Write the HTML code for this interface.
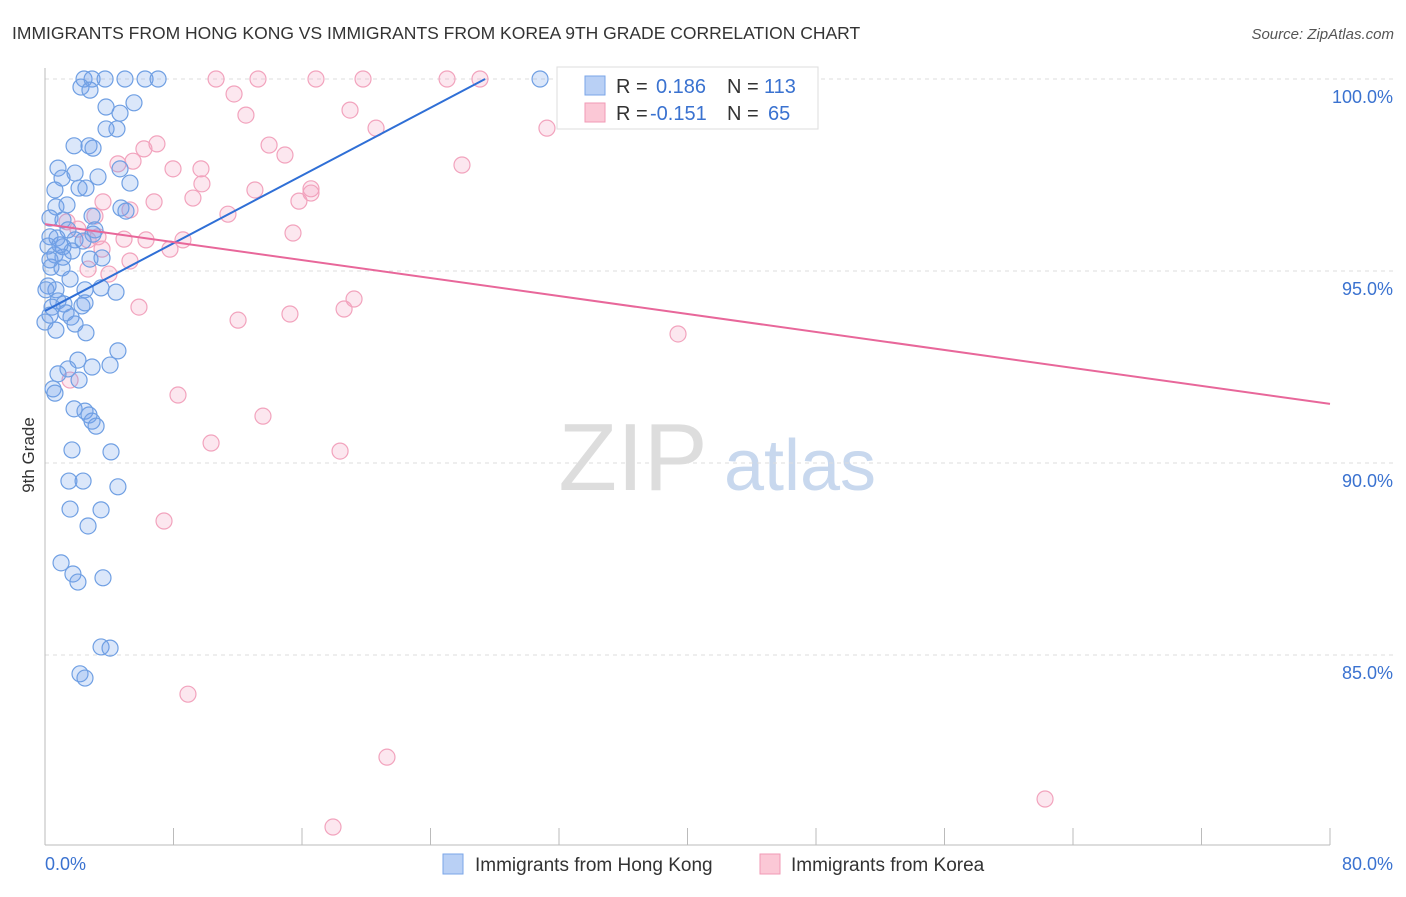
<!DOCTYPE html>
<html><head><meta charset="utf-8"><style>
body{margin:0;background:#fff;font-family:"Liberation Sans",sans-serif}
svg text{font-family:"Liberation Sans",sans-serif}
</style></head><body>
<svg id="c" width="1406" height="892" xmlns="http://www.w3.org/2000/svg">
<text x="12" y="39" font-size="17.5" fill="#333">IMMIGRANTS FROM HONG KONG VS IMMIGRANTS FROM KOREA 9TH GRADE CORRELATION CHART</text>
<text x="1394" y="39" font-size="15" fill="#555" text-anchor="end" font-style="italic">Source: ZipAtlas.com</text>
<text x="633" y="490" font-size="96" fill="#ddd" text-anchor="middle" font-family="Liberation Serif">ZIP</text>
<text x="800" y="490" font-size="72" fill="#c8d8ee" text-anchor="middle">atlas</text>
<text transform="translate(34,455) rotate(-90)" font-size="17" fill="#333" text-anchor="middle">9th Grade</text>
<g id="grid"></g><g id="pts"></g><g id="lines"></g>
<g>
<rect x="557" y="67" width="261" height="62" fill="#fff" stroke="#ddd"/>
<rect x="585" y="76" width="20" height="19" fill="#b9d0f5" stroke="#7aa6e8"/>
<rect x="585" y="103" width="20" height="19" fill="#fbc8d6" stroke="#f09ab5"/>
<text x="616" y="93" font-size="20" fill="#333">R = </text><text x="656" y="93" font-size="20" fill="#3a72d0">0.186</text>
<text x="727" y="93" font-size="20" fill="#333">N = </text><text x="764" y="93" font-size="20" fill="#3a72d0">113</text>
<text x="616" y="120" font-size="20" fill="#333">R = </text><text x="650" y="120" font-size="20" fill="#3a72d0">-0.151</text>
<text x="727" y="120" font-size="20" fill="#333">N = </text><text x="768" y="120" font-size="20" fill="#3a72d0">65</text>
</g>
<g>
<rect x="443" y="854" width="20" height="20" fill="#b9d0f5" stroke="#7aa6e8"/>
<text x="475" y="871" font-size="19" fill="#333">Immigrants from Hong Kong</text>
<rect x="760" y="854" width="20" height="20" fill="#fbc8d6" stroke="#f09ab5"/>
<text x="791" y="871" font-size="19" fill="#333">Immigrants from Korea</text>
</g>
<text x="45" y="870" font-size="18" fill="#3a72d0">0.0%</text>
<text x="1393" y="870" font-size="18" fill="#3a72d0" text-anchor="end">80.0%</text>
</svg>
<script>
const yTicks=[100,95,90,85];
const yTickLabels=["100.0%","95.0%","90.0%","85.0%"];
const xTicks=[0,8,16,24,32,40,48,56,64,72,80];
const hkX=[2.43,2.93,3.74,4.98,6.23,7.04,30.82,2.24,2.80,5.54,3.80,4.67,4.48,3.80,1.81,2.74,2.99,0.81,1.06,1.87,3.30,2.12,2.55,5.29,0.62,4.67,0.68,1.37,4.73,5.04,2.93,0.31,1.12,3.11,2.99,0.31,0.75,1.87,2.37,0.19,1.12,1.68,0.62,1.12,2.80,3.55,0.37,1.06,1.56,0.19,0.68,2.49,4.42,3.49,0.81,1.18,0.44,2.30,2.49,1.31,1.62,1.87,0.68,2.55,4.54,2.05,2.93,4.05,1.43,0.81,2.12,0.50,0.62,1.81,2.49,2.74,2.93,3.18,1.68,4.11,1.49,2.37,4.54,1.56,3.49,2.68,1.00,1.74,3.61,2.05,3.49,4.05,2.18,2.49,0.31,0.06,0.93,1.43,0,0.31];
const hkY=[100,100,100,100,100,100,100,99.79,99.71,99.38,99.27,99.11,98.70,98.70,98.26,98.26,98.20,97.68,97.42,97.55,97.45,97.16,97.16,97.29,97.11,97.66,96.67,96.72,96.64,96.56,96.43,96.38,96.33,96.07,95.96,95.89,95.86,95.81,95.78,95.65,95.63,95.52,95.42,95.36,95.31,95.34,95.10,95.08,94.79,94.61,94.51,94.51,94.45,94.56,94.22,94.14,94.06,94.09,94.17,93.91,93.80,93.62,93.46,93.39,92.92,92.68,92.50,92.55,92.45,92.32,92.16,91.93,91.82,91.41,91.35,91.25,91.09,90.96,90.34,90.29,89.53,89.53,89.38,88.80,88.78,88.36,87.40,87.11,87.01,86.90,85.21,85.18,84.51,84.40,95.29,94.51,95.68,96.07,93.67,93.85];
const krX=[10.65,13.26,16.87,19.80,25.03,27.08,11.77,18.99,12.51,20.61,31.25,6.97,6.16,13.95,14.94,5.48,4.54,7.97,9.71,25.96,9.77,13.07,16.56,16.56,9.21,6.79,15.81,3.61,5.29,11.39,3.11,1.37,2.05,15.44,3.30,4.92,6.29,8.59,7.78,2.68,5.29,3.98,5.85,19.24,18.62,15.25,12.02,39.41,1.56,8.28,13.57,10.34,18.37,7.41,8.90,21.29,62.26,17.93,2.68,3.55];
const krY=[100,100,100,100,100,100,99.61,99.19,99.06,98.72,98.72,98.31,98.18,98.28,98.02,97.86,97.79,97.66,97.66,97.76,97.27,97.11,97.14,97.03,96.90,96.80,96.82,96.80,96.59,96.48,96.43,96.28,96.09,95.99,95.89,95.83,95.81,95.81,95.57,95.05,95.26,94.92,94.06,94.27,94.01,93.88,93.72,93.36,92.16,91.77,91.22,90.52,90.31,88.49,83.98,82.34,81.25,80.52,95.81,95.57];
const hkLine=[[0,93.96],[27.4,100]];
const krLine=[[0,96.22],[80,91.54]];
const NS="http://www.w3.org/2000/svg";
const X=v=>45+v/80*1285, Y=v=>79+(100-v)*38.4;
function mk(t,a,p){const e=document.createElementNS(NS,t);for(const k in a)e.setAttribute(k,a[k]);p.appendChild(e);return e;}
const grid=document.getElementById('grid');
yTicks.forEach((t,i)=>{
 const l=mk('line',{x1:45,x2:1393,y1:Y(t),y2:Y(t),stroke:'#ddd','stroke-dasharray':'4,4'},grid);
 
 
 const tx=mk('text',{x:1393,y:Y(t)+24,'font-size':18,fill:'#3a72d0','text-anchor':'end'},grid);
 tx.textContent=yTickLabels[i];
 
 
});
const ax=mk('line',{x1:45,x2:1330,y1:845,y2:845,stroke:'#bbb'},grid);


const ay=mk('line',{x1:45,x2:45,y1:68,y2:845,stroke:'#bbb'},grid);


xTicks.forEach(t=>{
 const l=mk('line',{x1:X(t),x2:X(t),y1:828,y2:845,stroke:'#bbb'},grid);
 
 
});
const pts=document.getElementById('pts');
krX.forEach((x,i)=>{
 const c=mk('circle',{cx:X(x),cy:Y(krY[i]),r:8,fill:'rgba(244,160,190,0.25)',stroke:'#f2a3bd','stroke-width':1.2},pts);
 
 
});
hkX.forEach((x,i)=>{
 const c=mk('circle',{cx:X(x),cy:Y(hkY[i]),r:8,fill:'rgba(110,160,235,0.25)',stroke:'#6f9fe3','stroke-width':1.2},pts);
 
 
});
const lines=document.getElementById('lines');
const l1=mk('line',{x1:X(hkLine[0][0]),y1:Y(hkLine[0][1]),x2:X(hkLine[1][0]),y2:Y(hkLine[1][1]),stroke:'#2f6fd6','stroke-width':2},lines);


const l2=mk('line',{x1:X(krLine[0][0]),y1:Y(krLine[0][1]),x2:X(krLine[1][0]),y2:Y(krLine[1][1]),stroke:'#e8679a','stroke-width':2},lines);


</script>
</body></html>
